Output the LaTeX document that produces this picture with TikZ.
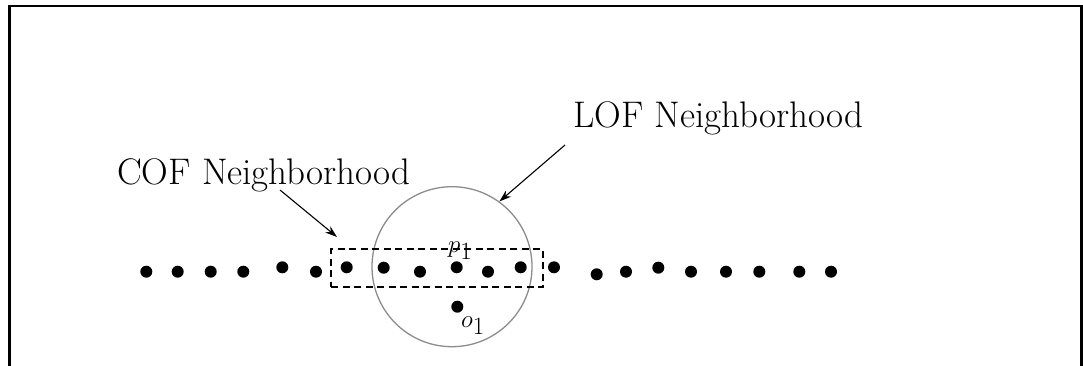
\documentclass[tikz,border=0pt]{standalone}
\usetikzlibrary{arrows.meta}
\begin{document}
\begin{tikzpicture}[x=1pt,y=-1pt,
  dot/.style={circle,fill=black,inner sep=0pt,minimum size=12pt},
  lbl/.style={inner sep=0pt,font=\fontsize{37}{44}\selectfont},
  ptr/.style={line width=1.1pt,-{Stealth[length=12pt,width=8pt]}},
  frameline/.style={line width=2.6pt,black}]
\useasboundingbox (0,0) rectangle (1083,366);
% open frame
\draw[frameline] (9.5,370) -- (9.5,6) -- (1081.5,6) -- (1081.5,370);
% LOF circle
\node[circle,draw=black!45,line width=1.3pt,minimum size=160pt,inner sep=0pt] (circ) at (452,266.7) {};
% COF dashed box
\node[draw=black,dashed,dash pattern=on 7pt off 4.5pt,line width=2pt,minimum width=212pt,minimum height=38pt,inner sep=0pt] (cofbox) at (437,268) {};
% dots
\foreach \i/\x/\y in {1/146.3/271.7,2/177.7/271.7,3/210.7/271.7,4/243.3/271.7,5/282.3/267.3,6/316/271.7,7/346.7/267.3,8/383.7/267.7,9/420/271.7,10/456.7/267.3,11/488/271.7,12/520.7/267.3,13/554/267.3,14/596.7/274.3,15/626/271.7,16/658.3/267.7,17/691/271.7,18/726/271.7,19/759.3/271.7,20/799.3/271.7,21/831/271.7}
  \node[dot] (d\i) at (\x,\y) {};
\node[dot] (o1) at (457.3,306.7) {};
% point labels
\node[lbl,anchor=base west] (p1lab) at (448,252) {$p_1$};
\node[lbl,anchor=base west] (o1lab) at (461,327) {$o_1$};
% titles
\node[lbl,anchor=base west] (cof) at (117,185) {COF Neighborhood};
\node[lbl,anchor=base west] (lof) at (573,128) {LOF Neighborhood};
% arrows
\coordinate (cofA) at (280,190);
\coordinate (cofB) at (337,237);
\coordinate (lofA) at (565,145);
\draw[ptr] (cofA) -- (cofB);
\draw[ptr] (lofA) -- (circ.54);
\end{tikzpicture}
\end{document}
